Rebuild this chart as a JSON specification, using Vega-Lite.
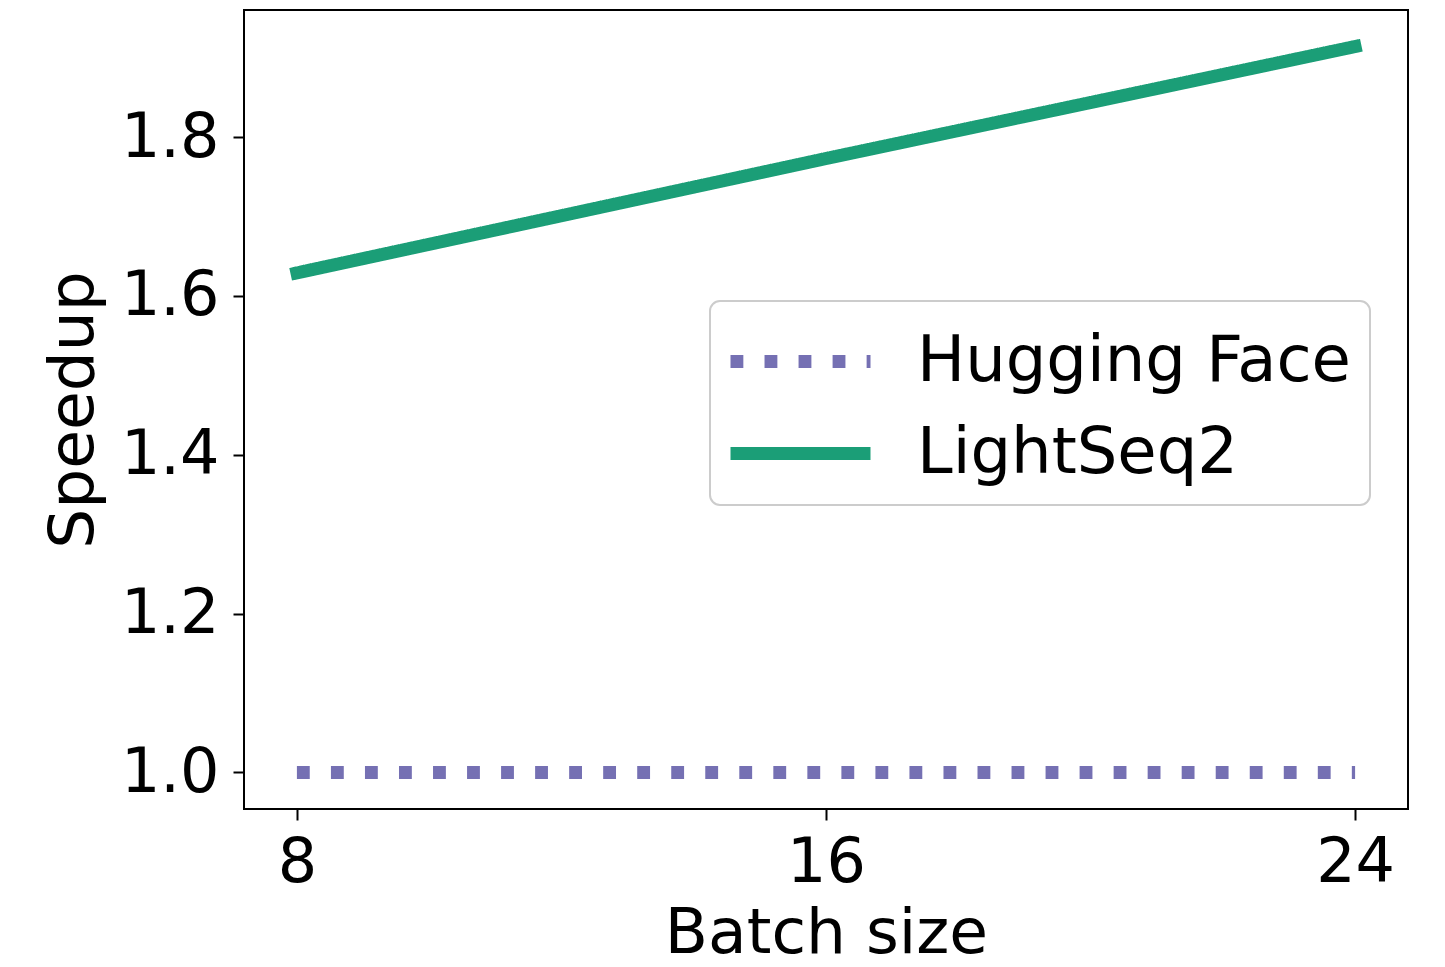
{
  "$schema": "https://vega.github.io/schema/vega-lite/v6.json",
  "width": 1164,
  "height": 799,
  "autosize": {"type": "none"},
  "padding": {"left": 244, "top": 10, "right": 37, "bottom": 158},
  "background": "white",
  "config": {
    "font": "DejaVu Sans",
    "view": {"stroke": "#000000", "strokeWidth": 2},
    "axis": {
      "domain": false,
      "grid": false,
      "ticks": true,
      "tickColor": "#000000",
      "tickWidth": 2,
      "tickSize": 11,
      "labelFont": "DejaVu Sans",
      "labelFontSize": 62,
      "labelColor": "#000000",
      "titleFont": "DejaVu Sans",
      "titleFontSize": 63,
      "titleFontWeight": "normal",
      "titleColor": "#000000"
    }
  },
  "data": {
    "values": [
      {"batch": 8, "speedup": 1.0, "system": "Hugging Face"},
      {"batch": 16, "speedup": 1.0, "system": "Hugging Face"},
      {"batch": 24, "speedup": 1.0, "system": "Hugging Face"},
      {"batch": 8, "speedup": 1.629, "system": "LightSeq2"},
      {"batch": 16, "speedup": 1.773, "system": "LightSeq2"},
      {"batch": 24, "speedup": 1.914, "system": "LightSeq2"}
    ]
  },
  "encoding": {
    "x": {
      "field": "batch",
      "type": "quantitative",
      "title": "Batch size",
      "scale": {"domain": [7.2, 24.8], "nice": false, "zero": false},
      "axis": {"values": [8, 16, 24], "labelPadding": 12, "titlePadding": 9, "labelFlush": false}
    },
    "y": {
      "field": "speedup",
      "type": "quantitative",
      "title": "Speedup",
      "scale": {"domain": [0.954, 1.96], "nice": false, "zero": false},
      "axis": {"values": [1.0, 1.2, 1.4, 1.6, 1.8], "format": ".1f", "labelPadding": 14, "titlePadding": 15, "labelFlush": false}
    },
    "color": {
      "field": "system",
      "type": "nominal",
      "scale": {"domain": ["Hugging Face", "LightSeq2"], "range": ["#7570b3", "#1b9e77"]},
      "legend": {
        "title": null,
        "orient": "none",
        "legendX": 466,
        "legendY": 291,
        "padding": 19,
        "strokeColor": "#cccccc",
        "cornerRadius": 10,
        "fillColor": "#ffffff",
        "symbolType": "M-2,0L2,0",
        "symbolSize": 4900,
        "symbolStrokeWidth": 12.84,
        "symbolOffset": 30,
        "labelFont": "DejaVu Sans",
        "labelFontSize": 64,
        "labelColor": "#000000",
        "labelOffset": 75,
        "rowPadding": 18,
        "labelLimit": 800,
        "encode": {"legend": {"update": {"strokeWidth": {"value": 2}}}}
      }
    },
    "strokeDash": {
      "field": "system",
      "type": "nominal",
      "scale": {"domain": ["Hugging Face", "LightSeq2"], "range": [[12.84, 21.19], [1, 0]]},
      "legend": null
    }
  },
  "layer": [
    {
      "transform": [{"filter": "datum.system === 'Hugging Face'"}],
      "mark": {"type": "line", "strokeWidth": 12.84, "strokeCap": "butt", "clip": true}
    },
    {
      "transform": [{"filter": "datum.system === 'LightSeq2'"}],
      "mark": {"type": "line", "strokeWidth": 12.84, "strokeCap": "square", "clip": true}
    }
  ]
}
